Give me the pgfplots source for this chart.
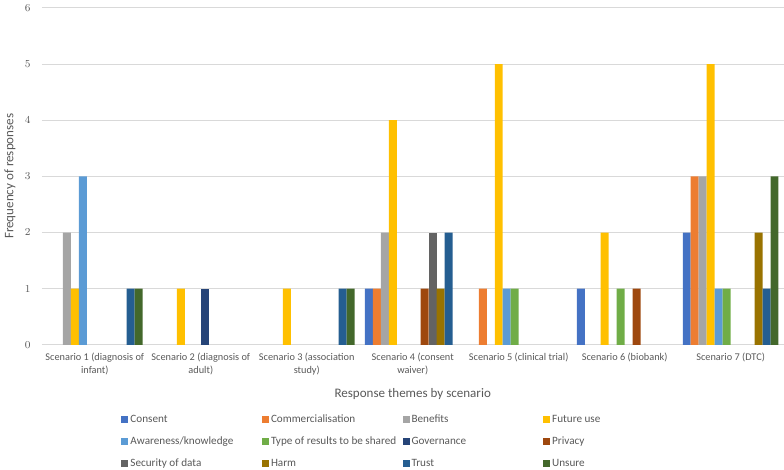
\documentclass[border=0pt]{standalone}
\usepackage{pgfplots}
\pgfplotsset{compat=1.18}
\usepackage{fontspec}
\setmainfont{Carlito}
\definecolor{cConsent}{HTML}{4472C4}
\definecolor{cComm}{HTML}{ED7D31}
\definecolor{cBen}{HTML}{A5A5A5}
\definecolor{cFut}{HTML}{FFC000}
\definecolor{cAware}{HTML}{5B9BD5}
\definecolor{cType}{HTML}{70AD47}
\definecolor{cGov}{HTML}{264478}
\definecolor{cPriv}{HTML}{9E480E}
\definecolor{cSec}{HTML}{636363}
\definecolor{cHarm}{HTML}{997300}
\definecolor{cTrust}{HTML}{255E91}
\definecolor{cUnsure}{HTML}{43682B}
\definecolor{txt}{HTML}{595959}
% fixed-width legend cells, like Excel's legend grid
\newcommand{\legent}[1]{\addlegendentry{\makebox[99pt][l]{#1}}}
\begin{document}
\begin{tikzpicture}
\begin{axis}[
  scale only axis,
  width=558pt, height=253.5pt,
  ybar=0pt, bar width=6pt,
  xmin=0.5, xmax=7.5, ymin=0, ymax=6,
  ytick={0,1,2,3,4,5,6},
  xtick={1,2,3,4,5,6,7},
  xticklabels={{Scenario 1 (diagnosis of\\infant)},{Scenario 2 (diagnosis of\\adult)},{Scenario 3 (association\\study)},{Scenario 4 (consent\\waiver)},{Scenario 5 (clinical trial)},{Scenario 6 (biobank)},{Scenario 7 (DTC)}},
  xticklabel style={align=center, font=\fontsize{7.75}{10}\selectfont, text=txt, yshift=-2.5pt},
  yticklabel style={font=\fontsize{7.75}{10}\selectfont, text=txt, xshift=-5pt},
  major tick length=0pt,
  axis line style={draw=none},
  ymajorgrids, grid style={color=black!15, line width=0.6pt},
  xlabel={Response themes by scenario},
  ylabel={Frequency of responses},
  xlabel style={font=\fontsize{9.8}{12}\selectfont, text=txt, at={(axis description cs:0.5,-0.145)}, anchor=center},
  ylabel style={font=\fontsize{9.8}{12}\selectfont, text=txt, at={(axis description cs:-0.043,0.5)}, anchor=center},
  legend columns=4,
  legend style={draw=none, at={(0.107,-0.205)}, anchor=north west,
    font=\fontsize{8.4}{10}\selectfont, text=txt,
    nodes={text height=6.5pt, text depth=2pt, inner sep=0pt},
    /tikz/every odd column/.append style={column sep=1.5pt},
    row sep=8pt, inner sep=0pt},
  legend image code/.code={\fill[#1] (0pt,-2.6pt) rectangle (5.25pt,2.6pt);},
  every axis plot/.append style={draw=none},
]
\addplot[fill=cConsent] coordinates {(4,1) (6,1) (7,2)}; \legent{Consent}
\addplot[fill=cComm] coordinates {(4,1) (5,1) (7,3)}; \legent{Commercialisation}
\addplot[fill=cBen] coordinates {(1,2) (4,2) (7,3)}; \legent{Benefits}
\addplot[fill=cFut] coordinates {(1,1) (2,1) (3,1) (4,4) (5,5) (6,2) (7,5)}; \legent{Future use}
\addplot[fill=cAware] coordinates {(1,3) (5,1) (7,1)}; \legent{Awareness/knowledge}
\addplot[fill=cType] coordinates {(5,1) (6,1) (7,1)}; \legent{Type of results to be shared}
\addplot[fill=cGov] coordinates {(2,1)}; \legent{Governance}
\addplot[fill=cPriv] coordinates {(4,1) (6,1)}; \legent{Privacy}
\addplot[fill=cSec] coordinates {(4,2)}; \legent{Security of data}
\addplot[fill=cHarm] coordinates {(4,1) (7,2)}; \legent{Harm}
\addplot[fill=cTrust] coordinates {(1,1) (3,1) (4,2) (7,1)}; \legent{Trust}
\addplot[fill=cUnsure] coordinates {(1,1) (3,1) (7,3)}; \legent{Unsure}
\end{axis}
\end{tikzpicture}
\end{document}
